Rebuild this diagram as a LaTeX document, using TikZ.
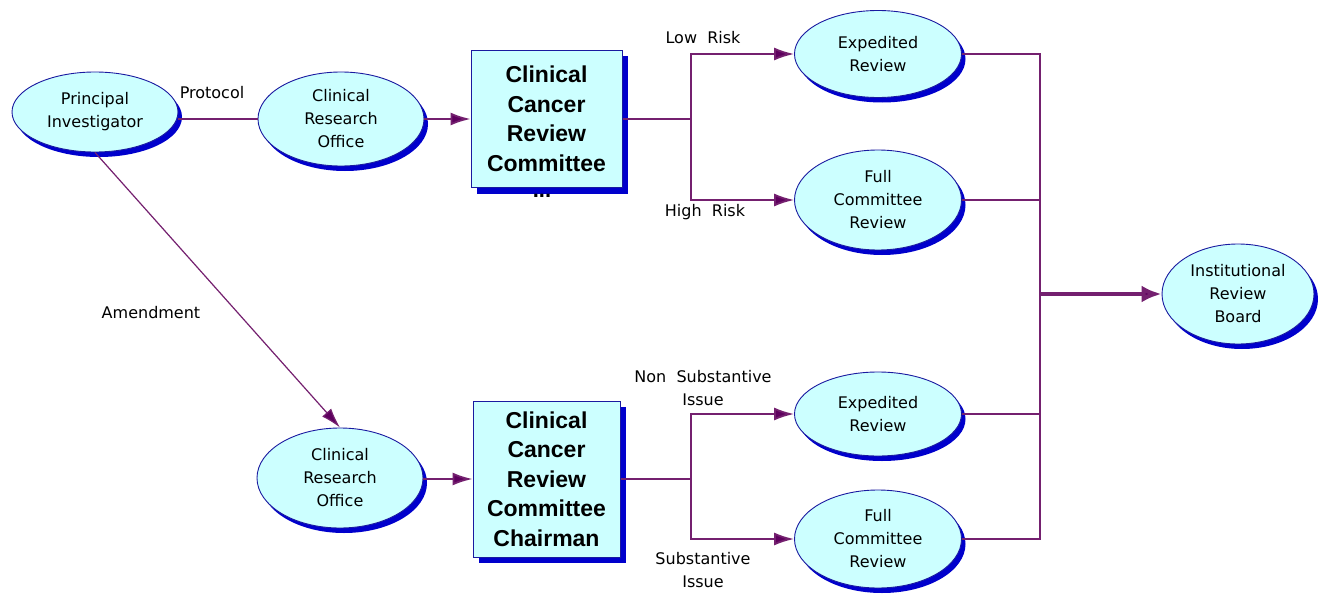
\documentclass[tikz,border=0pt]{standalone}
\usepackage{fontspec}
\setmainfont{DejaVu Sans}
\newfontfamily\boxfont{Liberation Sans}
\usetikzlibrary{shapes.geometric,arrows.meta,shadows,calc}
\definecolor{cyanfill}{HTML}{CCFFFF}
\definecolor{edgeblue}{HTML}{1A1AA0}
\definecolor{shadowblue}{HTML}{0000CC}
\definecolor{linepurple}{HTML}{74206F}
\definecolor{headpurple}{HTML}{5E005E}
\tikzset{
  ell/.style={ellipse, draw=edgeblue, line width=0.9pt, fill=cyanfill, inner sep=0pt,
    align=center, font=\fontsize{16}{23}\selectfont,
    drop shadow={shadow xshift=4pt, shadow yshift=-5pt, fill=shadowblue, opacity=1}},
  cbox/.style={rectangle, draw=edgeblue, line width=1pt, fill=cyanfill, inner sep=0pt,
    align=center, font=\boxfont\bfseries\fontsize{23}{29.5}\selectfont,
    drop shadow={shadow xshift=6pt, shadow yshift=-6pt, fill=shadowblue, opacity=1}},
  conn/.style={draw=linepurple, line width=1.8pt},
  arr/.style={conn, -{Latex[length=20pt,width=13pt,fill=headpurple]}},
  thinarr/.style={draw=linepurple, line width=1.2pt, -{Latex[length=20pt,width=12pt,fill=headpurple]}},
  bigarr/.style={draw=linepurple, line width=4.5pt, -{Latex[length=20pt,width=17pt,fill=headpurple]}},
  lbl/.style={font=\fontsize{16}{23}\selectfont, align=center, inner sep=0pt}
}
\begin{document}
\begin{tikzpicture}[x=1pt,y=-1pt]
\fill[white] (0,0) rectangle (1318,594);
\useasboundingbox (0,0) rectangle (1318,594);

% nodes
\node[ell, minimum width=166pt, minimum height=80pt] (PI) at (95,112) {Principal\\Investigator};
\node[ell, minimum width=166pt, minimum height=94pt] (CRO1) at (341,119) {Clinical\\Research\\Office};
\node[cbox, minimum width=151pt, minimum height=137pt] (Box1) at (546.5,119) {Clinical\\Cancer\\Review\\Committee};
\node[font=\boxfont\bfseries\fontsize{22}{29.5}\selectfont, inner sep=0pt] (more) at (542,195.5) {...};
\node[ell, minimum width=167pt, minimum height=87pt] (Exp1) at (878,54) {Expedited\\Review};
\node[ell, minimum width=167pt, minimum height=100pt] (Full1) at (878,200) {Full\\Committee\\Review};

\node[ell, minimum width=166pt, minimum height=100pt] (CRO2) at (340,478) {Clinical\\Research\\Office};
\node[cbox, minimum width=147pt, minimum height=156pt] (Box2) at (546.5,479) {Clinical\\Cancer\\Review\\Committee\\Chairman};
\node[ell, minimum width=167pt, minimum height=84pt] (Exp2) at (878,414) {Expedited\\Review};
\node[ell, minimum width=167pt, minimum height=98pt] (Full2) at (878,539) {Full\\Committee\\Review};

\node[ell, minimum width=152pt, minimum height=100pt] (IRB) at (1238,294) {Institutional\\Review\\Board};

% labels
\node[lbl] (lProt) at (212,93) {Protocol};
\node[lbl] (lAmend) at (151,313) {Amendment};
\node[lbl] (lLow) at (703,38) {Low\ \ Risk};
\node[lbl] (lHigh) at (705,212) {High\ \ Risk};
\node[lbl] (lNon) at (703,388) {Non\ \ Substantive\\Issue};
\node[lbl] (lSub) at (703,570) {Substantive\\Issue};

% junctions and bus
\coordinate (j1) at (691,119);
\coordinate (j2) at (691,479);
\coordinate (busT) at (1040,54);
\coordinate (busB) at (1040,539);

% connectors
\draw[conn] (PI.east |- CRO1.west) -- (CRO1.west);
\draw[arr] (CRO1.east) -- (Box1.west);
\draw[conn] (Box1.east) -- (j1);
\draw[arr] (j1) |- (Exp1.west);
\draw[arr] (j1) |- (Full1.west);

\draw[thinarr] (PI.south) -- (CRO2.north);
\draw[arr] (CRO2.east |- Box2.west) -- (Box2.west);
\draw[conn] (Box2.east) -- (j2);
\draw[arr] (j2) |- (Exp2.west);
\draw[arr] (j2) |- (Full2.west);

\draw[conn] (Exp1.east) -- (busT) -- (busB) -- (Full2.east);
\draw[conn] (Full1.east) -- (Full1.east -| busT);
\draw[conn] (Exp2.east) -- (Exp2.east -| busT);
\draw[bigarr] (IRB.west -| busT) -- (IRB.west);
\end{tikzpicture}
\end{document}
